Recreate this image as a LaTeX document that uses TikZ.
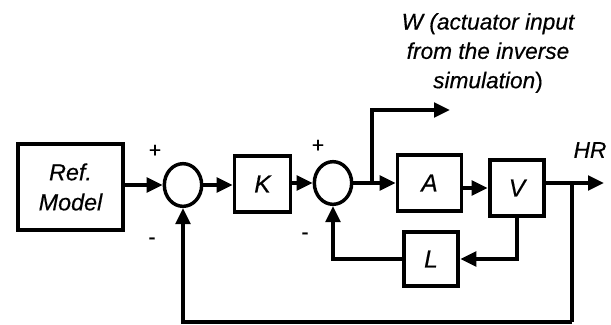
\documentclass[tikz,border=0pt]{standalone}
\usepackage{fontspec}
\setmainfont{Liberation Sans}
\newfontfamily\lblfont{Liberation Sans}[ItalicFeatures={FakeBold=0.4},UprightFeatures={FakeBold=0.3}]
\usetikzlibrary{arrows.meta,shapes.geometric}
\begin{document}
\begin{tikzpicture}[x=0.75pt,y=-0.75pt,
  blk/.style={draw,line width=2.9pt,rectangle,inner sep=0pt,font=\fontsize{18.5}{22.5}\lblfont\itshape},
  sumnode/.style={draw,line width=2.6pt,ellipse,inner sep=0pt,minimum width=28pt,minimum height=32pt},
  sig/.style={line width=2.6pt,-{Triangle[length=12pt,width=11pt]}},
  wire/.style={line width=2.6pt},
  lbl/.style={font=\fontsize{17}{22}\lblfont\itshape,inner sep=0pt},
  sgn/.style={font=\fontsize{16}{20}\lblfont,inner sep=0pt}]
\useasboundingbox (0,0) rectangle (611,325);
% blocks
\node[blk,minimum width=79pt,minimum height=65pt,align=center,font=\fontsize{17.5}{22.5}\lblfont\itshape] (ref) at (70.5,187) {Ref.\\Model};
\node[sumnode] (s1) at (183,185) {};
\node[blk,minimum width=42pt,minimum height=42.5pt] (k) at (262.5,184) {K};
\node[sumnode] (s2) at (333,183) {};
\node[blk,minimum width=48pt,minimum height=42.5pt] (a) at (429.5,183) {A};
\node[blk,minimum width=41pt,minimum height=42.5pt] (v) at (517,188) {V};
\node[blk,minimum width=41pt,minimum height=41pt] (l) at (431,259) {L};
% coordinates
\coordinate (b1) at (372,183);
\coordinate (wend) at (450,110);
\coordinate (out) at (604,183);
\coordinate (b2) at (572,183);
\coordinate (low) at (572,322);
% signs
\node[sgn] (p1) at (155,151) {+};
\node[sgn] (m1) at (152,241) {-};
\node[sgn] (p2) at (318,146) {+};
\node[sgn] (m2) at (305,236) {-};
% labels
\node[lbl] (hr) at (590,150) {HR};
\node[lbl,align=center] (wlbl) at (488,53) {W (actuator input\\from the inverse\\simulation\textup{)}};
% connectors
\draw[sig] (ref.east |- s1.west) -- (s1.west);
\draw[sig] (s1.east) -- (k.west |- s1.east);
\draw[sig] (k.east |- s2.west) -- (s2.west);
\draw[sig] (s2.east) -- (a.west);
\draw[sig] (b1) |- (wend);
\draw[sig] (a.east |- v.west) -- (v.west);
\draw[sig] (v.east |- out) -- (out);
\draw[wire] (b2) -- (low);
\draw[sig] (low) -| (s1.south);
\draw[sig] (v.south) |- (l.east);
\draw[sig] (l.west) -| (s2.south);
\end{tikzpicture}
\end{document}
